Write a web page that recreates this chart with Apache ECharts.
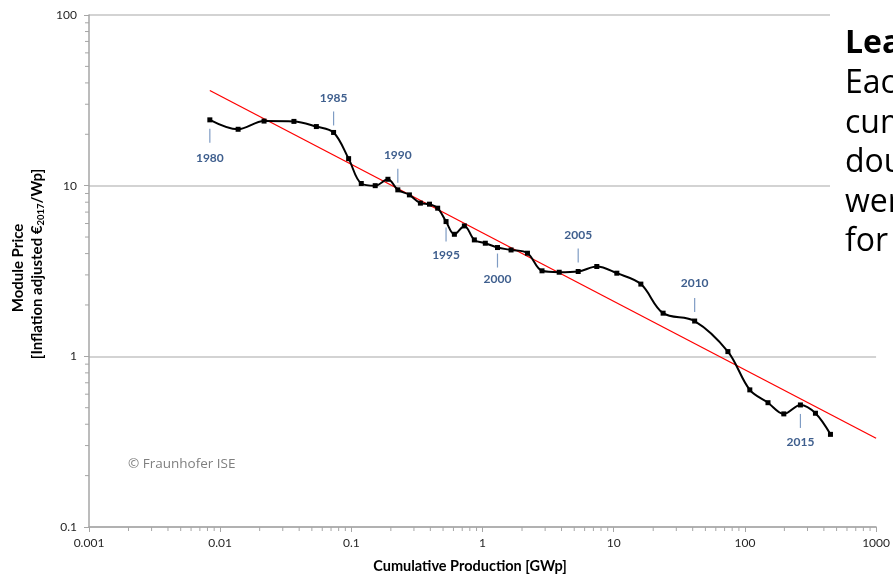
<!DOCTYPE html>
<html><head><meta charset="utf-8">
<script src="https://cdn.jsdelivr.net/npm/echarts@6/dist/echarts.min.js"></script>
<style>html,body{margin:0;padding:0;background:#fff}#c{width:893px;height:578px}</style>
</head><body><div id="c"></div>
<script>
// ---- data ----
const years = [1980,1981,1982,1983,1984,1985,1986,1987,1988,1989,1990,1991,1992,1993,1994,1995,1996,1997,1998,1999,2000,2001,2002,2003,2004,2005,2006,2007,2008,2009,2010,2011,2012,2013,2014,2015,2016,2017];
const cumProd = [0.00834,0.0137,0.0216,0.0365,0.0541,0.0732,0.0953,0.119,0.152,0.190,0.226,0.277,0.336,0.394,0.455,0.527,0.610,0.727,0.866,1.05,1.30,1.65,2.20,2.84,3.84,5.36,7.43,10.56,16.1,23.8,41.4,74.2,109,150,198,265,345,449];
const price = [24.3,21.4,23.9,23.8,22.2,20.5,14.4,10.3,10.0,10.9,9.45,8.83,7.9,7.79,7.38,6.16,5.19,5.81,4.81,4.60,4.34,4.20,4.02,3.17,3.11,3.14,3.36,3.07,2.65,1.79,1.61,1.066,0.636,0.535,0.46,0.519,0.464,0.349];
const trendX = [0.00834, 1000];
const trendY = [36.1, 0.331];
const annotYears = [1980,1985,1990,1995,2000,2005,2010,2015];
const xTickLabels = ['0.001','0.01','0.1','1','10','100','1000'];
const yTickLabels = ['0.1','1','10','100'];
const minorMultipliers = [2,3,4,5,6,7,8,9];
const xDecades = [0.001,0.01,0.1,1,10,100];
const yDecades = [0.1,1,10];
const boxLines = ['Each time the','cumulative production','doubled, the price','went down by 24 %','for the last 37 years.'];

// ---- styles ----
const FONT = 'Lato, "Noto Sans", sans-serif';
const annotOffsets = [[9,38],[-7,-34],[-7,-35],[6,34],[6,32],[-9,-36],[-9,-38],[9,37]]; // [tick start, label centre] px from point
const ANN_TICK = 14;

const mainData = cumProd.map((x,i)=>[x, price[i]]);
const trendData = trendX.map((x,i)=>[x, trendY[i]]);
const annData = annotYears.map(y=>{const i=years.indexOf(y); return [cumProd[i], price[i]];});
const xMinor = []; xDecades.forEach(d=>minorMultipliers.forEach(m=>xMinor.push([d*m, 0.1])));
const yMinor = []; yDecades.forEach(d=>minorMultipliers.forEach(m=>yMinor.push([0.001, d*m])));

const chart = echarts.init(document.getElementById('c'));
const axisGrey = '#a6a6a6';
chart.setOption({
  animation:false,
  backgroundColor:'#fff',
  grid:{left:89,right:16,top:15,bottom:51},
  xAxis:{type:'log',logBase:10,min:0.001,max:1000,splitNumber:6,
    axisLine:{show:true,lineStyle:{color:axisGrey,width:1.5}},
    axisTick:{show:true,length:5,lineStyle:{color:axisGrey}},
    axisLabel:{margin:10,color:'#262626',fontSize:12,fontFamily:FONT,
      formatter:v=>xTickLabels[Math.round(Math.log10(v))+3]},
    splitLine:{show:false}},
  yAxis:{type:'log',logBase:10,min:0.1,max:100,splitNumber:3,
    axisLine:{show:true,lineStyle:{color:axisGrey,width:1.5}},
    axisTick:{show:true,length:5,lineStyle:{color:axisGrey}},
    axisLabel:{margin:12,color:'#262626',fontSize:12,fontFamily:FONT,
      formatter:v=>yTickLabels[Math.round(Math.log10(v))+1]},
    splitLine:{show:true,lineStyle:{color:'#c4c4c4',width:1.6}}},
  series:[
    {type:'line',data:trendData,symbol:'none',lineStyle:{color:'#ff0000',width:1.3},z:2,silent:true},
    {type:'line',data:mainData,smooth:0.35,symbol:'rect',symbolSize:5,
      lineStyle:{color:'#000',width:2},itemStyle:{color:'#000'},z:3},
    {type:'custom',data:xMinor,clip:false,silent:true,
      renderItem:(p,api)=>{const c=api.coord([api.value(0),api.value(1)]);
        return {type:'line',shape:{x1:c[0],y1:c[1],x2:c[0],y2:c[1]+4},style:{stroke:axisGrey,lineWidth:1}};}},
    {type:'custom',data:yMinor,clip:false,silent:true,
      renderItem:(p,api)=>{const c=api.coord([api.value(0),api.value(1)]);
        return {type:'line',shape:{x1:c[0]-4,y1:c[1],x2:c[0],y2:c[1]},style:{stroke:axisGrey,lineWidth:1}};}},
    {type:'custom',data:annData,clip:false,silent:true,z:4,
      renderItem:(p,api)=>{const c=api.coord([api.value(0),api.value(1)]);
        const o=annotOffsets[p.dataIndex]; const s=o[0]>0?1:-1;
        return {type:'group',children:[
          {type:'line',shape:{x1:c[0],y1:c[1]+o[0],x2:c[0],y2:c[1]+o[0]+s*ANN_TICK},style:{stroke:'#7f9cc4',lineWidth:1.2}},
          {type:'text',style:{text:String(annotYears[p.dataIndex]),x:c[0],y:c[1]+o[1],align:'center',verticalAlign:'middle',
            fontSize:12,fontWeight:'bold',fontFamily:FONT,fill:'#3f5f8e'}}]};}}
  ],
  graphic:[
    {type:'text',x:18,y:268,rotation:Math.PI/2,style:{text:'Module Price',fontSize:15,fontWeight:'bold',fontFamily:FONT,fill:'#000',align:'center',verticalAlign:'middle'}},
    {type:'text',x:37,y:264,rotation:Math.PI/2,style:{text:'{a|[Inflation adjusted €}{s|2017}{a|/Wp]}',align:'center',verticalAlign:'middle',
      rich:{a:{fontSize:15,fontWeight:'bold',fontFamily:FONT,fill:'#000',lineHeight:17},s:{fontSize:9.5,fontWeight:'bold',fontFamily:FONT,fill:'#000',lineHeight:17,verticalAlign:'bottom',padding:[7,0,0,0]}}}},
    {type:'text',x:470,y:566,style:{text:'Cumulative Production [GWp]',fontSize:14.5,fontWeight:'bold',fontFamily:FONT,fill:'#000',align:'center',verticalAlign:'middle'}},
    {type:'text',x:128,y:464,style:{text:'© Fraunhofer ISE',fontSize:13.5,fontFamily:'"Open Sans", sans-serif',fill:'#7f7f7f',align:'left',verticalAlign:'middle'}},
    {type:'rect',z:100,shape:{x:830,y:0,width:63,height:300},style:{fill:'#fff'}},
    {type:'text',z:101,x:845,y:60,style:{text:'Learning Rate:',fontSize:32,fontWeight:'bold',fontFamily:'"Open Sans", sans-serif',fill:'#000',align:'left',verticalAlign:'bottom'}},
    ...boxLines.map((t,i)=>({type:'text',z:101,x:845,y:100+i*39.5,style:{text:t,fontSize:32,fontFamily:'"Open Sans", sans-serif',fill:'#000',align:'left',verticalAlign:'bottom'}}))
  ]
});
</script></body></html>
